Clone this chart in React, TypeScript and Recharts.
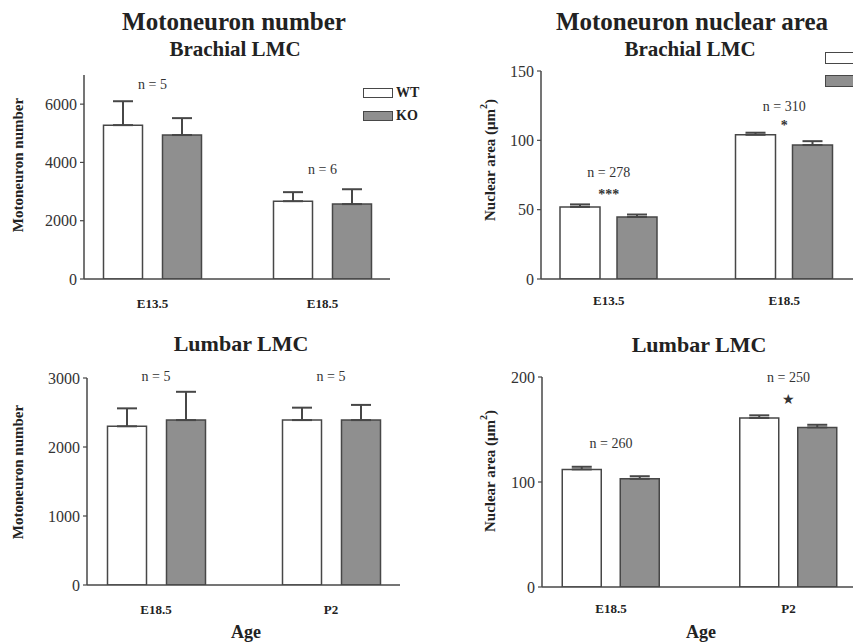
import React from "react";
import { BarChart, Bar, XAxis, YAxis, ErrorBar, ReferenceDot, Legend } from "recharts";

const FONT = "'Liberation Serif', 'Times New Roman', serif";
const WT_FILL = "#ffffff";
const KO_FILL = "#8f8f8f";
const EDGE = "#474747";
const INK = "#222222";

const genotypes = ["WT", "KO"];

// Brachial LMC, motoneuron number
const brachialAges = ["E13.5", "E18.5"];
const brachialCountWT = [5280, 2670];
const brachialCountKO = [4940, 2570];
const brachialCountWTerr = [820, 310];
const brachialCountKOerr = [580, 510];
const brachialCountTicks = [0, 2000, 4000, 6000];
const brachialCountN = ["n = 5", "n = 6"];

// Brachial LMC, nuclear area
const brachialAreaWT = [52, 104];
const brachialAreaKO = [44.7, 96.6];
const brachialAreaWTerr = [1.8, 1.5];
const brachialAreaKOerr = [1.8, 2.8];
const brachialAreaTicks = [0, 50, 100, 150];
const brachialAreaN = ["n = 278", "n = 310"];
const brachialAreaSig = ["***", "*"];

// Lumbar LMC, motoneuron number
const lumbarAges = ["E18.5", "P2"];
const lumbarCountWT = [2300, 2390];
const lumbarCountKO = [2390, 2390];
const lumbarCountWTerr = [260, 180];
const lumbarCountKOerr = [410, 220];
const lumbarCountTicks = [0, 1000, 2000, 3000];
const lumbarCountN = ["n = 5", "n = 5"];

// Lumbar LMC, nuclear area
const lumbarAreaWT = [112, 161];
const lumbarAreaKO = [103, 152];
const lumbarAreaWTerr = [2.5, 2.5];
const lumbarAreaKOerr = [2.5, 2.5];
const lumbarAreaTicks = [0, 100, 200];
const lumbarAreaN = ["n = 260", "n = 250"];
const lumbarAreaSig = ["", "★"];

const rows = (ages: string[], wt: number[], ko: number[], wtErr: number[], koErr: number[]) =>
  ages.map((age, i) => ({ age, wt: wt[i], ko: ko[i], wtErr: [0, wtErr[i]], koErr: [0, koErr[i]] }));

type Note = { age: string; y: number; text: string; size?: number; bold?: boolean };

const yTitle = (text: string, x: number, y: number, squared: boolean) => () => (
  <text
    x={x}
    y={y}
    transform={`rotate(-90 ${x} ${y})`}
    textAnchor="middle"
    dominantBaseline="central"
    fontFamily={FONT}
    fontWeight="bold"
    fontSize={15}
    fill={INK}
  >
    {text}
    {squared && <tspan dy={-7} fontSize={10}>2</tspan>}
    {squared && <tspan dy={7}>)</tspan>}
  </text>
);

// legend swatches; the right-hand panel's legend runs off the page, so only its boxes show
function LegendBoxes({ pitch, boxH, showText }: { pitch: number; boxH: number; showText: boolean }) {
  return (
    <div style={{ fontFamily: FONT, fontWeight: "bold", fontSize: 14, color: INK }}>
      {genotypes.map((name, i) => (
        <div key={name} style={{ display: "flex", alignItems: "center", height: pitch, whiteSpace: "nowrap" }}>
          <span
            style={{
              display: "inline-block",
              width: 30,
              height: boxH,
              boxSizing: "border-box",
              border: `1.5px solid ${EDGE}`,
              background: i === 0 ? WT_FILL : KO_FILL,
              marginRight: 3,
            }}
          />
          {showText && <span>{name}</span>}
        </div>
      ))}
    </div>
  );
}

type PanelProps = {
  data: ReturnType<typeof rows>;
  ticks: number[];
  yMax: number;
  notes: Note[];
  left: number;
  top: number;
  width: number;
  height: number;
  margin: { top: number; right: number; bottom: number; left: number };
  yWidth: number;
  pad: { left: number; right: number };
  barSize: number;
  barGap: number;
  xTickMargin: number;
  title: () => React.ReactElement;
  legend?: { left: number; top: number; pitch: number; boxH: number; showText: boolean };
};

function Panel(p: PanelProps) {
  return (
    <div style={{ position: "absolute", left: p.left, top: p.top }}>
      <BarChart
        width={p.width}
        height={p.height}
        data={p.data}
        margin={p.margin}
        barSize={p.barSize}
        barGap={p.barGap}
      >
        <XAxis
          dataKey="age"
          height={30}
          padding={p.pad}
          tickLine={false}
          tickSize={0}
          tickMargin={p.xTickMargin}
          axisLine={{ stroke: EDGE, strokeWidth: 1.5 }}
          tick={{ fontFamily: FONT, fontWeight: "bold", fontSize: 13, fill: INK }}
        />
        <YAxis
          width={p.yWidth}
          domain={[0, p.yMax]}
          ticks={p.ticks}
          interval={0}
          allowDataOverflow
          tickSize={4}
          tickMargin={3}
          axisLine={{ stroke: EDGE, strokeWidth: 1.5 }}
          tickLine={{ stroke: EDGE, strokeWidth: 1.2 }}
          tick={{ fontFamily: FONT, fontSize: 16, fill: "#333" }}
          label={p.title}
        />
        {p.legend && (
          <Legend
            layout="vertical"
            align="center"
            verticalAlign="middle"
            wrapperStyle={{ left: p.legend.left, top: p.legend.top, width: 80 }}
            content={() => (
              <LegendBoxes pitch={p.legend!.pitch} boxH={p.legend!.boxH} showText={p.legend!.showText} />
            )}
          />
        )}
        <Bar dataKey="wt" name={genotypes[0]} fill={WT_FILL} stroke={EDGE} strokeWidth={1.5} isAnimationActive={false}>
          <ErrorBar dataKey="wtErr" width={10} stroke={EDGE} strokeWidth={2} direction="y" />
        </Bar>
        <Bar dataKey="ko" name={genotypes[1]} fill={KO_FILL} stroke={EDGE} strokeWidth={1.5} isAnimationActive={false}>
          <ErrorBar dataKey="koErr" width={10} stroke={EDGE} strokeWidth={2} direction="y" />
        </Bar>
        {p.notes
          .filter((n) => n.text)
          .map((n, i) => (
            <ReferenceDot
              key={i}
              x={n.age}
              y={n.y}
              r={1}
              fill="none"
              stroke="none"
              ifOverflow="visible"
              label={{
                value: n.text,
                position: "center",
                fill: "#333",
                fontSize: n.size ?? 14,
                fontWeight: n.bold ? "bold" : "normal",
                fontFamily: FONT,
              }}
            />
          ))}
      </BarChart>
    </div>
  );
}

function Heading({ x, y, size, children }: { x: number; y: number; size: number; children: React.ReactNode }) {
  return (
    <div
      style={{
        position: "absolute",
        left: x,
        top: y,
        transform: "translate(-50%, -50%)",
        fontFamily: FONT,
        fontWeight: "bold",
        fontSize: size,
        lineHeight: 1,
        color: INK,
        whiteSpace: "nowrap",
      }}
    >
      {children}
    </div>
  );
}

export default function App() {
  return (
    <div
      style={{
        position: "absolute",
        left: 0,
        top: 0,
        width: 853,
        height: 644,
        overflow: "hidden",
        background: "#fff",
      }}
    >
      <Heading x={234} y={21} size={25}>Motoneuron number</Heading>
      <Heading x={235} y={49} size={21}>Brachial LMC</Heading>
      <Heading x={692} y={21} size={25}>Motoneuron nuclear area</Heading>
      <Heading x={690} y={49} size={21}>Brachial LMC</Heading>
      <Heading x={241} y={344} size={22}>Lumbar LMC</Heading>
      <Heading x={699} y={345} size={22}>Lumbar LMC</Heading>
      <Heading x={246} y={632} size={18}>Age</Heading>
      <Heading x={701} y={632} size={18}>Age</Heading>

      <Panel
        data={rows(brachialAges, brachialCountWT, brachialCountKO, brachialCountWTerr, brachialCountKOerr)}
        ticks={brachialCountTicks}
        yMax={7000}
        notes={[
          { age: brachialAges[0], y: 6700, text: brachialCountN[0] },
          { age: brachialAges[1], y: 3780, text: brachialCountN[1] },
        ]}
        left={0}
        top={0}
        width={420}
        height={320}
        margin={{ top: 75, right: 30, bottom: 11, left: 0 }}
        yWidth={84}
        pad={{ left: -16.5, right: -17.5 }}
        barSize={39}
        barGap={20}
        xTickMargin={20}
        title={yTitle("Motoneuron number", 18, 165, false)}
        legend={{ left: 363, top: 81, pitch: 23, boxH: 10, showText: true }}
      />

      <Panel
        data={rows(brachialAges, brachialAreaWT, brachialAreaKO, brachialAreaWTerr, brachialAreaKOerr)}
        ticks={brachialAreaTicks}
        yMax={150}
        notes={[
          { age: brachialAges[0], y: 77, text: brachialAreaN[0] },
          { age: brachialAges[0], y: 61, text: brachialAreaSig[0], size: 14, bold: true },
          { age: brachialAges[1], y: 125, text: brachialAreaN[1] },
          { age: brachialAges[1], y: 111, text: brachialAreaSig[1], size: 14, bold: true },
        ]}
        left={420}
        top={0}
        width={433}
        height={320}
        margin={{ top: 71, right: 0, bottom: 11, left: 0 }}
        yWidth={121}
        pad={{ left: -20, right: -19 }}
        barSize={40}
        barGap={17}
        xTickMargin={17}
        title={yTitle("Nuclear area (μm", 70, 160, true)}
        legend={{ left: 405, top: 47, pitch: 22.5, boxH: 12, showText: false }}
      />

      <Panel
        data={rows(lumbarAges, lumbarCountWT, lumbarCountKO, lumbarCountWTerr, lumbarCountKOerr)}
        ticks={lumbarCountTicks}
        yMax={3000}
        notes={[
          { age: lumbarAges[0], y: 3030, text: lumbarCountN[0] },
          { age: lumbarAges[1], y: 3030, text: lumbarCountN[1] },
        ]}
        left={0}
        top={320}
        width={420}
        height={324}
        margin={{ top: 58, right: 20, bottom: 29, left: 0 }}
        yWidth={87}
        pad={{ left: -18.5, right: -18.5 }}
        barSize={39}
        barGap={20}
        xTickMargin={20}
        title={yTitle("Motoneuron number", 18, 152, false)}
      />

      <Panel
        data={rows(lumbarAges, lumbarAreaWT, lumbarAreaKO, lumbarAreaWTerr, lumbarAreaKOerr)}
        ticks={lumbarAreaTicks}
        yMax={200}
        notes={[
          { age: lumbarAges[0], y: 137, text: lumbarAreaN[0] },
          { age: lumbarAges[1], y: 200, text: lumbarAreaN[1] },
          { age: lumbarAges[1], y: 179, text: lumbarAreaSig[1], size: 14 },
        ]}
        left={420}
        top={320}
        width={433}
        height={324}
        margin={{ top: 57, right: 0, bottom: 27, left: 0 }}
        yWidth={122}
        pad={{ left: -19.75, right: -24.25 }}
        barSize={39}
        barGap={19}
        xTickMargin={17}
        title={yTitle("Nuclear area (μm", 70, 151, true)}
      />
    </div>
  );
}
